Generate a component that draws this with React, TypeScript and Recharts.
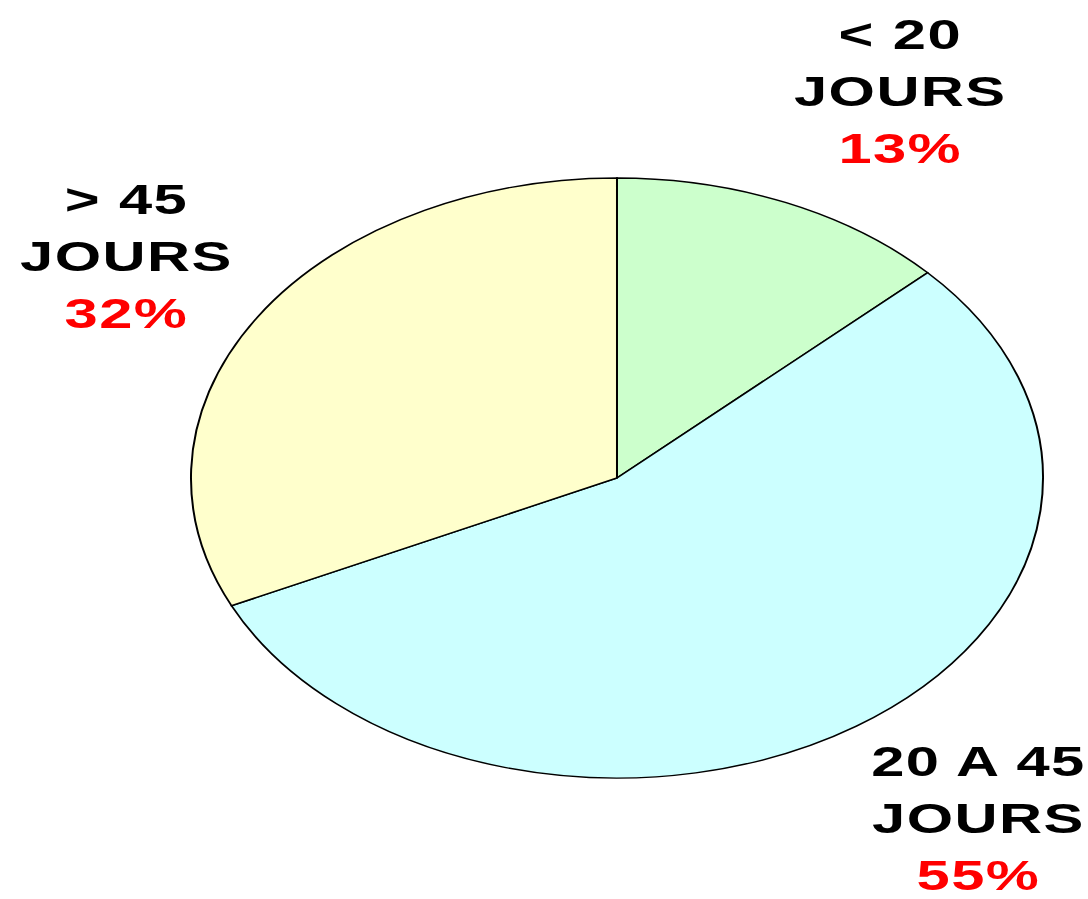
import { PieChart, Pie, Cell } from 'recharts';

const categories = ['< 20 JOURS', '20 A 45 JOURS', '> 45 JOURS'];
const shares = [13, 55, 32];
const labelTop = ['< 20', '20 A 45', '> 45'];
const colors = ['#CCFFCC', '#CCFFFF', '#FFFFCC'];

const data = categories.map((name, i) => ({ name, value: shares[i] }));

// the original is a circle stretched sideways
const SX = 1.42;
const W = 1088 / SX;
const H = 899;

const labelPos = [
  { x: 634, y: 6 },
  { x: 689, y: 733 },
  { x: 89, y: 171 },
];

export default function App() {
  return (
    <div style={{ position: 'absolute', left: 0, top: 0, width: 1088, height: H, background: '#fff', overflow: 'hidden' }}>
      <div style={{ position: 'relative', width: W, height: H, transform: `scaleX(${SX})`, transformOrigin: 'left top' }}>
        <PieChart width={W} height={H} margin={{ top: 0, right: 0, bottom: 0, left: 0 }}>
          <Pie
            data={data}
            dataKey="value"
            nameKey="name"
            cx={434.5}
            cy={478}
            outerRadius={300}
            startAngle={90}
            endAngle={-270}
            stroke="#000"
            strokeWidth={1.4}
            isAnimationActive={false}
          >
            {data.map((d, i) => (
              <Cell key={d.name} fill={colors[i]} />
            ))}
          </Pie>
        </PieChart>
        {data.map((d, i) => (
          <div
            key={d.name}
            style={{
              position: 'absolute',
              left: labelPos[i].x - 120,
              top: labelPos[i].y,
              width: 240,
              textAlign: 'center',
              fontFamily: '"Liberation Sans", Arial, sans-serif',
              fontWeight: 'bold',
              fontSize: 42,
              lineHeight: '57px',
              letterSpacing: 1,
              color: '#000',
            }}
          >
            <div>{labelTop[i]}</div>
            <div>JOURS</div>
            <div style={{ color: '#FF0000', lineHeight: '44px', marginTop: 7 }}>{d.value}%</div>
          </div>
        ))}
      </div>
    </div>
  );
}
